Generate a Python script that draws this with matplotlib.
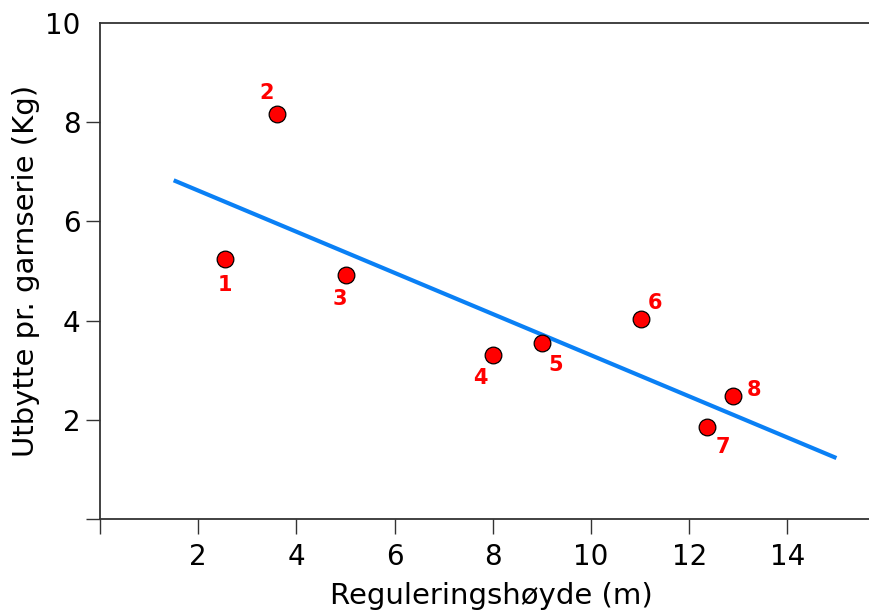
import matplotlib
matplotlib.use("Agg")
import matplotlib.pyplot as plt

# data
site_ids = ["1", "2", "3", "4", "5", "6", "7", "8"]
reg_height = [2.55, 3.6, 5.0, 8.0, 9.0, 11.02, 12.37, 12.9]
yield_kg = [5.25, 8.17, 4.92, 3.3, 3.55, 4.03, 1.85, 2.48]

fit_x = [1.5, 15.0]
fit_y = [6.83, 1.23]

x_ticks = [0, 2, 4, 6, 8, 10, 12, 14]
y_ticks = [0, 2, 4, 6, 8, 10]

# label offsets in points (layout only)
label_offsets = [(0, -19), (-7, 15), (-4, -17), (-9, -16), (10, -16),
                 (10, 12), (11, -14), (15, 4)]

plt.rcParams["font.family"] = ["DejaVu Sans"]

fig = plt.figure(figsize=(8.7, 6.15), dpi=100)
ax = fig.add_axes([0.115, 0.156, 0.9, 0.8065])

ax.plot(fit_x, fit_y, color="#0a80f5", linewidth=3, solid_capstyle="butt", zorder=2)
ax.plot(reg_height, yield_kg, linestyle="none", marker="o", markersize=12,
        markerfacecolor="#ff0000", markeredgecolor="black", markeredgewidth=0.9,
        zorder=3)

for name, x, y, (dx, dy) in zip(site_ids, reg_height, yield_kg, label_offsets):
    ax.annotate(name, (x, y), xytext=(dx, dy), textcoords="offset points",
                ha="center", va="center", color="#ff0000", fontsize=15,
                fontweight="bold")

ax.set_xlim(0, 15.95)
ax.set_ylim(0, 10)

ax.set_xticks(x_ticks)
ax.set_xticklabels([""] + [str(t) for t in x_ticks[1:]])
ax.set_yticks(y_ticks)
ax.set_yticklabels([""] + [str(t) for t in y_ticks[1:]])

ax.spines["right"].set_visible(False)
for side in ["left", "top", "bottom"]:
    ax.spines[side].set_linewidth(1.3)
    ax.spines[side].set_color("#333333")

ax.tick_params(axis="x", direction="out", length=11, width=1, color="#333333",
               labelsize=20, pad=6)
ax.tick_params(axis="y", direction="out", length=10, width=1, color="#333333",
               labelsize=20, pad=4)
ax.yaxis.get_major_ticks()[-1].tick1line.set_visible(False)

ax.set_xlabel("Reguleringshøyde (m)", fontsize=21, labelpad=8)
ax.set_ylabel("Utbytte pr. garnserie (Kg)", fontsize=21, labelpad=4)

fig.savefig("out.png", dpi=100)
